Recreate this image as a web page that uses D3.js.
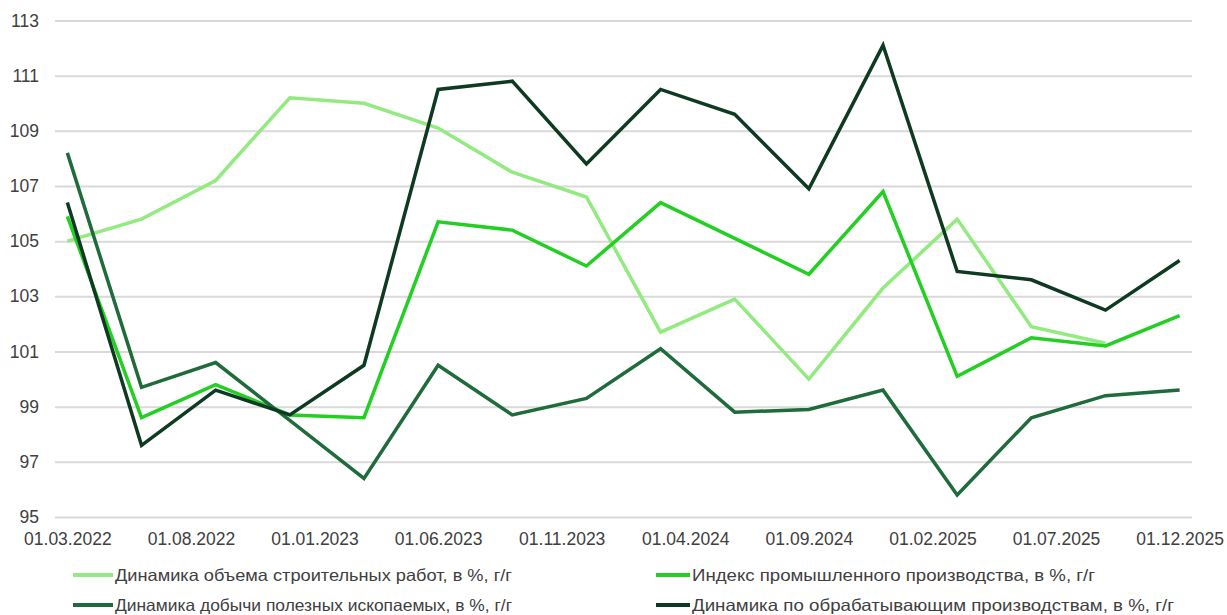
<!DOCTYPE html>
<html>
<head>
<meta charset="utf-8">
<script src="https://cdn.jsdelivr.net/npm/d3@7"></script>
<style>
  body { margin: 0; background: #fff; }
  svg { display: block; font-family: "Liberation Sans", Arial, sans-serif; }
</style>
</head>
<body>
<svg id="chart"></svg>
<script>
const width = 1227;
const height = 615;

// quarterly observations
const dates = ['2022-03-01', '2022-06-01', '2022-09-01', '2022-12-01',
    '2023-03-01', '2023-06-01', '2023-09-01', '2023-12-01',
    '2024-03-01', '2024-06-01', '2024-09-01', '2024-12-01',
    '2025-03-01', '2025-06-01', '2025-09-01', '2025-12-01'];

const construction = [105.0, 105.8, 107.2, 110.2, 110.0, 109.1, 107.5, 106.6,
    101.7, 102.9, 100.0, 103.3, 105.8, 101.9, 101.3, null];
const industry = [105.9, 98.6, 99.8, 98.7, 98.6, 105.7, 105.4, 104.1,
    106.4, 105.1, 103.8, 106.8, 100.1, 101.5, 101.2, 102.3];
const mining = [108.2, 99.7, 100.6, 98.5, 96.4, 100.5, 98.7, 99.3,
    101.1, 98.8, 98.9, 99.6, 95.8, 98.6, 99.4, 99.6];
const manufacturing = [106.4, 97.6, 99.6, 98.7, 100.5, 110.5, 110.8, 107.8,
    110.5, 109.6, 106.9, 112.1, 103.9, 103.6, 102.5, 104.3];

const seriesNames = [
    'Динамика объема строительных работ, в %, г/г',
    'Индекс промышленного производства, в %, г/г',
    'Динамика добычи полезных ископаемых, в %, г/г',
    'Динамика по обрабатывающим производствам, в %, г/г'
];
const seriesColors = ['#93ea80', '#22cf22', '#1f6b3b', '#0f3a22'];

const xTickDates = ['2022-03-01', '2022-08-01', '2023-01-01', '2023-06-01', '2023-11-01',
    '2024-04-01', '2024-09-01', '2025-02-01', '2025-07-01', '2025-12-01'];
const xTickLabels = ['01.03.2022', '01.08.2022', '01.01.2023', '01.06.2023', '01.11.2023',
    '01.04.2024', '01.09.2024', '01.02.2025', '01.07.2025', '01.12.2025'];
const yTicks = [95, 97, 99, 101, 103, 105, 107, 109, 111, 113];

// month number, so every month is the same width like on an excel date axis
const monthIndex = s => {
    const [y, m] = s.split('-').map(Number);
    return y * 12 + (m - 1);
};

const svg = d3.select('#chart')
    .attr('width', width)
    .attr('height', height);

const plotLeft = 55, plotRight = 1192, plotTop = 20.5, plotBottom = 517;

const xScale = d3.scaleLinear()
    .domain([monthIndex(dates[0]) - 0.5, monthIndex(dates[dates.length - 1]) + 0.5])
    .range([plotLeft, plotRight]);

const yScale = d3.scaleLinear()
    .domain([95, 113])
    .range([plotBottom, plotTop]);

const yAxis = d3.axisLeft(yScale)
    .tickValues(yTicks)
    .tickSize(-(plotRight - plotLeft))
    .tickPadding(16)
    .tickFormat(d3.format('d'));

const gy = svg.append('g')
    .attr('transform', 'translate(' + plotLeft + ',0)')
    .call(yAxis);
gy.select('.domain').remove();
gy.selectAll('line').attr('stroke', '#d9d9d9').attr('stroke-width', 2);
gy.selectAll('text')
    .attr('fill', '#404040')
    .style('font-size', '17.5px');

const xAxis = d3.axisBottom(xScale)
    .tickValues(xTickDates.map(monthIndex))
    .tickFormat((d, i) => xTickLabels[i])
    .tickSize(0)
    .tickPadding(16);

const gx = svg.append('g')
    .attr('transform', 'translate(0,' + plotBottom + ')')
    .call(xAxis);
gx.select('.domain').remove();
gx.selectAll('text')
    .attr('fill', '#404040')
    .style('font-size', '17.5px');

const allSeries = [construction, industry, mining, manufacturing];

const line = d3.line()
    .defined(d => d.v != null)
    .x(d => xScale(monthIndex(d.date)))
    .y(d => yScale(d.v));

svg.append('g')
    .selectAll('path')
    .data(allSeries)
    .enter()
    .append('path')
    .attr('d', s => line(s.map((v, i) => ({ date: dates[i], v: v }))))
    .attr('fill', 'none')
    .attr('stroke', (s, i) => seriesColors[i])
    .attr('stroke-width', 3.5)
    .attr('stroke-linejoin', 'miter');

// legend, 2 x 2
const legendPos = [
    { x: 73, y: 575, w: 40, len: 397 },
    { x: 656, y: 575, w: 34, len: 403 },
    { x: 73, y: 605, w: 40, len: 397 },
    { x: 656, y: 605, w: 34, len: 482 }
];

const legend = svg.append('g')
    .selectAll('g')
    .data(seriesNames)
    .enter()
    .append('g')
    .attr('transform', (d, i) => 'translate(' + legendPos[i].x + ',' + legendPos[i].y + ')');

legend.append('line')
    .attr('x1', 0)
    .attr('x2', (d, i) => legendPos[i].w)
    .attr('stroke', (d, i) => seriesColors[i])
    .attr('stroke-width', 4);

legend.append('text')
    .attr('x', (d, i) => legendPos[i].w + 2)
    .attr('dy', '0.35em')
    .attr('fill', '#404040')
    .attr('textLength', (d, i) => legendPos[i].len)
    .attr('lengthAdjust', 'spacingAndGlyphs')
    .style('font-size', '16.5px')
    .text(d => d);
</script>
</body>
</html>
